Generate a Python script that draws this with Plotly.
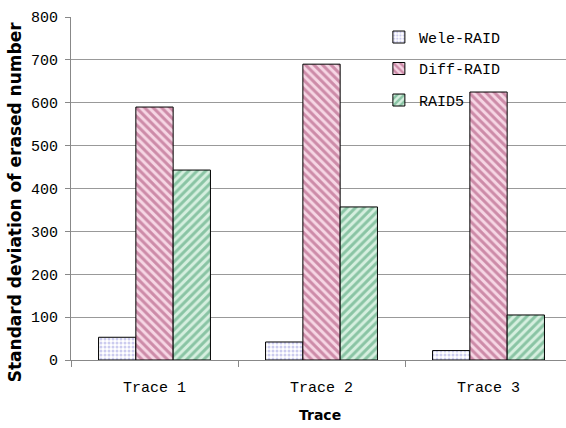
import plotly.graph_objects as go

categories = ["Trace 1", "Trace 2", "Trace 3"]
wele_raid = [53, 42, 22]
diff_raid = [590, 690, 625]
raid5 = [443, 357, 105]
y_ticks = [0, 100, 200, 300, 400, 500, 600, 700, 800]

tick_font = dict(family="Liberation Mono", size=15, color="black")
title_font = dict(family="DejaVu Sans", color="black")

fig = go.Figure()
series = [
    ("Wele-RAID", wele_raid, dict(shape=".", fgcolor="#9a9ae0", bgcolor="#ffffff", size=4, solidity=0.45)),
    ("Diff-RAID", diff_raid, dict(shape="\\", fgcolor="#a3406c", bgcolor="#f6d6e4", size=6, solidity=0.5)),
    ("RAID5", raid5, dict(shape="/", fgcolor="#3d9a6a", bgcolor="#d6efdf", size=6, solidity=0.5)),
]
for name, vals, pat in series:
    fig.add_trace(go.Bar(
        x=categories, y=vals, name=name, legendgroup=name,
        marker=dict(color=pat["bgcolor"], pattern=pat, line=dict(color="black", width=1)),
    ))

fig.add_annotation(text="<b>Standard deviation of erased number</b>", xref="paper", yref="paper",
                   x=-0.113, y=0.46, textangle=-90, showarrow=False,
                   font=dict(size=17, **title_font), xanchor="center", yanchor="middle")
fig.add_annotation(text="<b>Trace</b>", xref="paper", yref="paper",
                   x=0.503, y=-0.16, showarrow=False,
                   font=dict(size=14, **title_font), xanchor="center", yanchor="middle")

fig.update_layout(
    width=566, height=428,
    margin=dict(l=71, r=0, t=17, b=68),
    paper_bgcolor="white", plot_bgcolor="white",
    barmode="group", bargap=0.33, bargroupgap=0,
    showlegend=True,
    legend=dict(x=0.622, y=0.989, xanchor="left", yanchor="top",
                bgcolor="rgba(0,0,0,0)", font=tick_font, tracegroupgap=9,
                itemwidth=30),
    xaxis=dict(range=[-0.5, 2.464], showline=True, linecolor="#888", linewidth=1,
               ticks="outside", tickson="boundaries", ticklen=6, tickcolor="#888",
               tickfont=tick_font, showgrid=False, automargin=False,
               ticklabelstandoff=13),
    yaxis=dict(range=[0, 800], tickvals=y_ticks, showline=True, linecolor="#888", linewidth=1,
               ticks="outside", ticklen=5, tickcolor="#888", tickfont=tick_font,
               showgrid=True, gridcolor="#999", gridwidth=1, zeroline=False,
               automargin=False, ticklabelstandoff=4),
)
fig.write_html("out.html", config={"displayModeBar": False},
               post_script="document.body.style.margin='0';")
